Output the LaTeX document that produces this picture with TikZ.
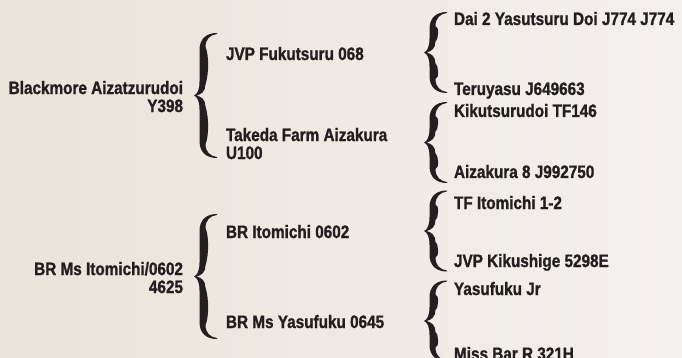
\documentclass[tikz,border=0pt]{standalone}
\usepackage{fontspec}
\newfontfamily\cond{Liberation Sans Bold}[FakeStretch=0.85, FakeBold=1.2]
\definecolor{bgL}{RGB}{234,227,218}
\definecolor{bgR}{RGB}{244,240,238}
\definecolor{ink}{RGB}{35,31,32}
\tikzset{
  pedtext/.style={font=\cond\fontsize{18}{18}\selectfont, text=ink, inner sep=0pt, outer sep=0pt},
  kid/.style={pedtext, anchor=base west},
  par/.style={pedtext, anchor=north east, align=right},
  twoline/.style={pedtext, anchor=north west, align=left},
  pics/cbrace/.style={code={
    \fill[ink] (23,#1) .. controls (12,#1) and (5.5,#1-6) .. (5.5,#1-17)
      -- (5.5,14) .. controls (5.5,5) and (3,1.4) .. (0,0)
      .. controls (3,-1.4) and (5.5,-5) .. (5.5,-14)
      -- (5.5,-#1+17) .. controls (5.5,-#1+6) and (12,-#1) .. (23,-#1)
      -- (23,-#1+0.9) .. controls (16,-#1+2) and (11.5,-#1+6) .. (11.5,-#1+14)
      .. controls (15,-0.65*#1) and (15,-0.35*#1) .. (11.5,-11)
      .. controls (11.5,-4) and (7,-0.9) .. (2.5,0)
      .. controls (7,0.9) and (11.5,4) .. (11.5,11)
      .. controls (15,0.35*#1) and (15,0.65*#1) .. (11.5,#1-14)
      .. controls (11.5,#1-6) and (16,#1-2) .. (23,#1-0.9) -- cycle;
  }}
}
\begin{document}
\begin{tikzpicture}[x=1pt,y=-1pt]
\useasboundingbox (0,0) rectangle (682,358);
\shade[left color=bgL, right color=bgR] (0,0) rectangle (682,358);

% generation 1
\node[par] (p1) at (183,81) {Blackmore Aizatzurudoi\\Y398};
\node[par] (p2) at (183,262) {BR Ms Itomichi/0602\\4625};

% generation 2
\node[kid] (c1) at (226,60) {JVP Fukutsuru 068};
\node[twoline] (c2) at (226,128) {Takeda Farm Aizakura\\U100};
\node[kid] (c3) at (226,238) {BR Itomichi 0602};
\node[kid] (c4) at (226,328) {BR Ms Yasufuku 0645};

% generation 3
\node[kid] (g1) at (454,25) {Dai 2 Yasutsuru Doi J774 J774};
\node[kid] (g2) at (454,95) {Teruyasu J649663};
\node[kid] (g3) at (454,117) {Kikutsurudoi TF146};
\node[kid] (g4) at (454,178) {Aizakura 8 J992750};
\node[kid] (g5) at (454,209) {TF Itomichi 1-2};
\node[kid] (g6) at (454,267) {JVP Kikushige 5298E};
\node[kid] (g7) at (454,295) {Yasufuku Jr};
\node[kid] (g8) at (454,360) {Miss Bar R 321H};

% braces
\pic at (194,95.5) {cbrace=62.5};
\pic at (194,276.5) {cbrace=62.5};
\pic at (424,52.5) {cbrace=40.5};
\pic at (424,142.5) {cbrace=40.5};
\pic at (424,231) {cbrace=40.5};
\pic at (424,321) {cbrace=40.5};
\end{tikzpicture}
\end{document}
